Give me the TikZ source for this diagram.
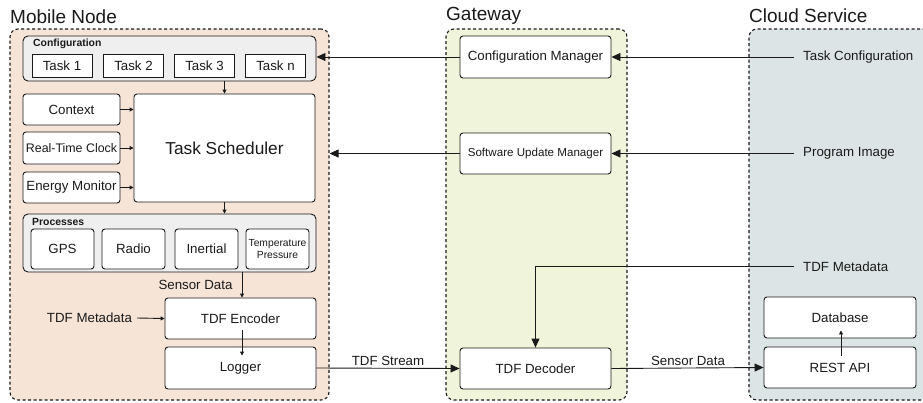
\documentclass[tikz,border=0pt]{standalone}
\usepackage{fontspec}
\setmainfont{Liberation Sans}
\usetikzlibrary{arrows.meta,calc}
\definecolor{mobfill}{HTML}{F6E4D7}
\definecolor{gwfill}{HTML}{EFF4DB}
\definecolor{clfill}{HTML}{DDE4E6}
\definecolor{grpfill}{HTML}{EFEFEF}
\definecolor{ink}{HTML}{1A1A1A}
\begin{document}
\begin{tikzpicture}[x=1pt,y=-1pt,
  every node/.style={font=\fontsize{13.3}{15}\selectfont, inner sep=0pt, text=ink},
  container/.style={draw=ink, dash pattern=on 3pt off 2.5pt, line width=1.1pt, rounded corners=8pt},
  grp/.style={draw=ink, fill=grpfill, rounded corners=5pt, line width=0.9pt},
  box/.style={draw=ink, fill=white, rounded corners=3pt, line width=0.9pt, align=center},
  sqbox/.style={draw=ink, fill=white, line width=0.9pt},
  title/.style={font=\fontsize{19}{22}\selectfont, anchor=west},
  grplabel/.style={font=\fontsize{10.4}{12}\selectfont\bfseries, anchor=west},
  big/.style={draw=ink, -{Triangle[length=9pt,width=8pt]}, line width=0.9pt},
  small/.style={draw=ink, -{Triangle[length=4pt,width=4pt]}, line width=0.9pt},
  lbl/.style={anchor=west, inner xsep=9pt, inner ysep=2pt}]
\useasboundingbox (0,0) rectangle (923,402);

% containers
\node[container, fill=mobfill, minimum width=319pt, minimum height=371pt] (mob) at (169.5,214.5) {};
\node[container, fill=gwfill, minimum width=181pt, minimum height=371pt] (gw) at (536.5,214.5) {};
\node[container, fill=clfill, minimum width=190pt, minimum height=371pt] (cl) at (844,214.5) {};
\node[title] (tmob) at (10,17) {Mobile Node};
\node[title] (tgw) at (446,16) {Gateway};
\node[title] (tcl) at (749,16) {Cloud Service};

% configuration group
\node[grp, minimum width=293pt, minimum height=45pt] (cfg) at (169.5,58.5) {};
\node[grplabel] (cfgl) at (33,44) {Configuration};
\node[sqbox, minimum width=60pt, minimum height=23pt] (t1) at (62,65.5) {Task 1};
\node[sqbox, minimum width=60pt, minimum height=23pt] (t2) at (133.5,65.5) {Task 2};
\node[sqbox, minimum width=60pt, minimum height=23pt] (t3) at (204.5,65.5) {Task 3};
\node[sqbox, minimum width=60pt, minimum height=23pt] (tn) at (275.5,65.5) {Task n};

% scheduler and inputs
\node[box, minimum width=181pt, minimum height=108pt, font=\fontsize{17.3}{20}\selectfont] (sch) at (224.5,148) {Task Scheduler};
\node[box, minimum width=97pt, minimum height=31pt] (ctx) at (71.5,109.5) {Context};
\node[box, minimum width=97pt, minimum height=32pt, font=\fontsize{12.4}{14}\selectfont] (rtc) at (71.5,148) {Real-Time Clock};
\node[box, minimum width=97pt, minimum height=31pt] (en) at (71.5,187.5) {Energy Monitor};

% processes group
\node[grp, minimum width=293pt, minimum height=58pt] (prc) at (169.5,243) {};
\node[grplabel] (prcl) at (32,222) {Processes};
\node[box, minimum width=63pt, minimum height=40pt] (gps) at (62.5,249) {GPS};
\node[box, minimum width=63pt, minimum height=40pt] (rad) at (133.5,249) {Radio};
\node[box, minimum width=63pt, minimum height=40pt] (ine) at (206.5,249) {Inertial};
\node[box, minimum width=63pt, minimum height=40pt, font=\fontsize{10.3}{12.5}\selectfont] (tp) at (277.5,249) {Temperature\\Pressure};

% encoder / logger
\node[box, minimum width=151pt, minimum height=41pt] (enc) at (240.5,318.5) {TDF Encoder};
\node[box, minimum width=151pt, minimum height=42pt] (log) at (240.5,368) {Logger};
\node (sd1) at (195.5,285) {Sensor Data};
\node (md1) at (89.5,318) {TDF Metadata};

% gateway
\node[box, minimum width=151pt, minimum height=42pt] (cm) at (535.5,57) {Configuration Manager};
\node[box, minimum width=151pt, minimum height=41pt, font=\fontsize{11.6}{14}\selectfont] (sum) at (535.5,153.5) {Software Update Manager};
\node[box, minimum width=151pt, minimum height=41pt] (dec) at (535.5,368.5) {TDF Decoder};
\node (tds) at (388,361) {TDF Stream};

% cloud
\node[box, minimum width=152pt, minimum height=41pt] (db) at (840,317.5) {Database};
\node[box, minimum width=152pt, minimum height=41pt] (rest) at (840,367.5) {REST API};
\node[lbl] (tc) at (794,57) {Task Configuration};
\node[lbl] (pi) at (794,153.5) {Program Image};
\node[lbl] (md2) at (794,266.5) {TDF Metadata};
\node (sd2) at (688,361) {Sensor Data};

% connectors in mobile node
\draw[small] (sch.north |- cfg.south) -- (sch.north);
\draw[small] (ctx.east) -- (ctx.east -| sch.west);
\draw[small] (rtc.east) -- (rtc.east -| sch.west);
\draw[small] (en.east) -- (en.east -| sch.west);
\draw[small] (sch.south) -- (sch.south |- prc.north);
\draw[small] ($(prc.south)+(72.5,0)$) -- ($(enc.north)+(1.5,0)$);
\draw[small] ($(md1.east)+(5,0)$) -- (enc.west);
\draw[small] ($(enc.south)+(1.5,-9)$) -- ($(log.north)+(1.5,9)$);

% cross-tier connectors
\draw[big] (cm.west) -- (cm.west -| cfg.east);
\draw[big] (sum.west) -- (sum.west -| mob.east);
\draw[big] (tc.west) -- (cm.east);
\draw[big] (pi.west) -- (sum.east);
\draw[big] (md2.west) -| (dec.north);
\draw[big] (log.east) -- (dec.west);
\draw[big] (dec.east) -- (rest.west);
\draw[small] ($(rest.north)+(1,9)$) -- ($(db.south)+(1,-8)$);
\end{tikzpicture}
\end{document}
